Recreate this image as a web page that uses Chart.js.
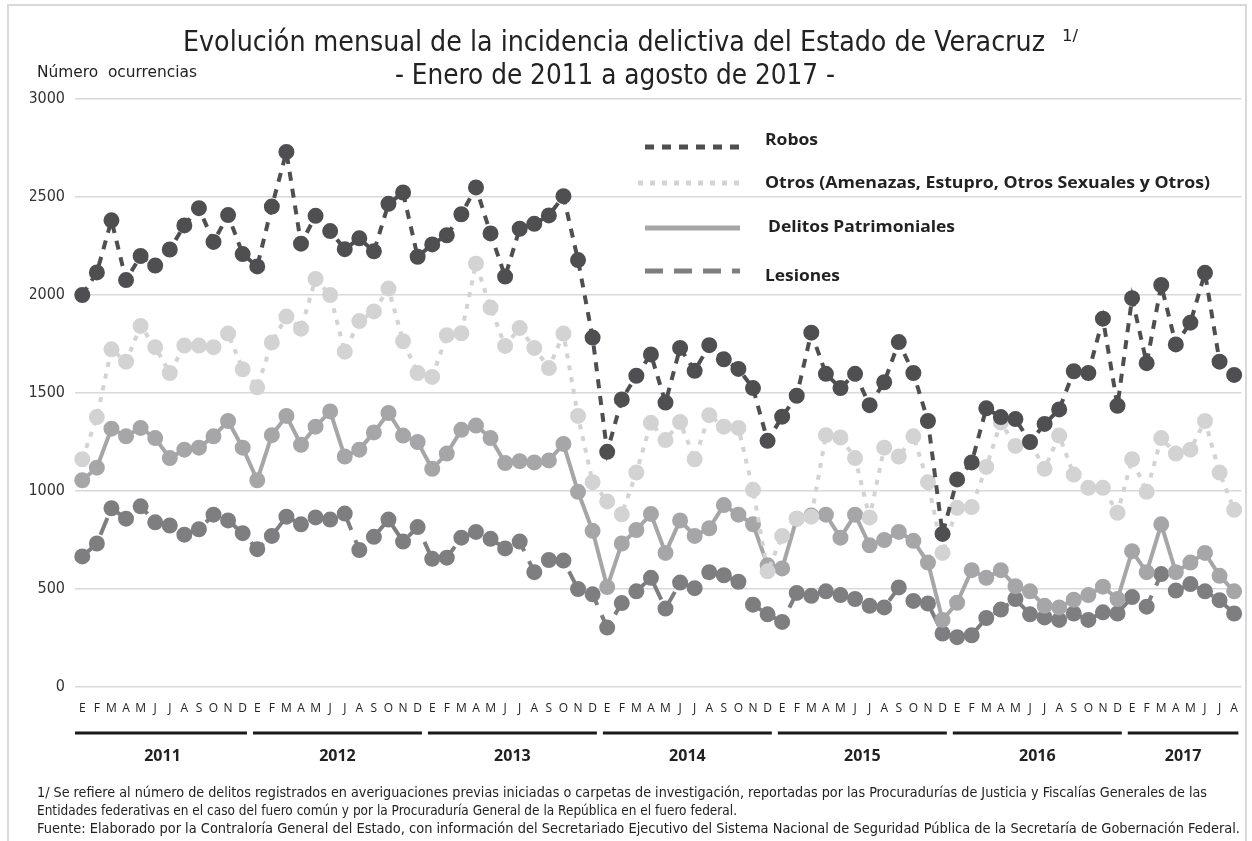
<!DOCTYPE html>
<html>
<head>
<meta charset="utf-8">
<script src="https://cdn.jsdelivr.net/npm/chart.js@4.4.1/dist/chart.umd.min.js"></script>
<style>
  html, body { margin: 0; padding: 0; background: #fff; }
  #wrap { position: relative; width: 1252px; height: 841px; }
</style>
</head>
<body>
<div id="wrap"><canvas id="c" width="1252" height="841"></canvas></div>
<script>
const months = ["E", "F", "M", "A", "M", "J", "J", "A", "S", "O", "N", "D"];
const years = ["2011", "2012", "2013", "2014", "2015", "2016", "2017"];
const monthsPerYear = [12, 12, 12, 12, 12, 12, 8];
const yTicks = [0, 500, 1000, 1500, 2000, 2500, 3000];

// Robos
const robos = [
  2000, 2115, 2381, 2076, 2199, 2150, 2232, 2355, 2443, 2271, 2408, 2209,
  2146, 2451, 2730, 2262, 2404, 2326, 2234, 2289, 2223, 2465, 2523, 2195,
  2258, 2305, 2412, 2549, 2314, 2094, 2338, 2363, 2406, 2504, 2178, 1783,
  1200, 1467, 1588, 1697, 1451, 1730, 1613, 1744, 1672, 1623, 1525, 1256,
  1379, 1486, 1808, 1598, 1525, 1598, 1438, 1555, 1760, 1602, 1357, 781,
  1059, 1146, 1422, 1377, 1367, 1250, 1342, 1416, 1611, 1602, 1879, 1435,
  1984, 1652, 2051, 1748, 1859, 2113, 1660, 1592
];
// Otros (Amenazas, Estupro, Otros Sexuales y Otros)
const otros = [
  1162, 1377, 1723, 1660, 1842, 1734, 1602, 1742, 1742, 1734, 1803, 1621,
  1529, 1758, 1890, 1828, 2082, 2000, 1711, 1867, 1916, 2033, 1764, 1602,
  1582, 1795, 1805, 2160, 1936, 1740, 1832, 1730, 1627, 1803, 1383, 1045,
  947, 881, 1094, 1348, 1260, 1352, 1162, 1387, 1328, 1322, 1006, 590,
  771, 859, 869, 1285, 1273, 1168, 865, 1221, 1176, 1279, 1045, 684,
  914, 918, 1123, 1350, 1230, 1250, 1113, 1283, 1084, 1016, 1016, 889,
  1162, 996, 1270, 1191, 1211, 1357, 1094, 904
];
// Delitos Patrimoniales
const patrimoniales = [
  1055, 1119, 1318, 1279, 1322, 1270, 1168, 1211, 1221, 1279, 1357, 1221,
  1055, 1285, 1383, 1236, 1328, 1406, 1176, 1211, 1299, 1398, 1283, 1250,
  1113, 1191, 1312, 1334, 1270, 1143, 1152, 1146, 1156, 1240, 996, 797,
  510, 732, 801, 883, 684, 850, 771, 810, 928, 879, 830, 621,
  605, 859, 875, 879, 762, 879, 723, 750, 791, 746, 635, 342,
  430, 596, 557, 596, 514, 488, 414, 406, 445, 469, 512, 449,
  693, 586, 830, 586, 635, 684, 567, 488
];
// Lesiones
const lesiones = [
  666, 732, 912, 859, 922, 840, 824, 777, 805, 879, 850, 785,
  703, 771, 869, 830, 865, 854, 885, 699, 766, 854, 742, 816,
  654, 660, 762, 791, 756, 707, 742, 586, 648, 645, 500, 473,
  303, 428, 488, 557, 400, 533, 504, 586, 570, 537, 420, 371,
  332, 480, 465, 488, 469, 449, 414, 406, 508, 439, 426, 273,
  254, 264, 352, 395, 449, 371, 355, 342, 375, 342, 381, 375,
  459, 410, 576, 492, 525, 488, 443, 375
];

const labels = [];
years.forEach((y, i) => {
  for (let m = 0; m < monthsPerYear[i]; m++) labels.push(months[m] + " " + y);
});

const NARROW = '"Liberation Sans Narrow", "DejaVu Sans Condensed", "Liberation Sans", sans-serif';
const BODY = '"Open Sans", "Liberation Sans", sans-serif';

// draw text squeezed/stretched to a measured width
function fitText(ctx, text, x, y, w, font, color) {
  ctx.save();
  ctx.font = font;
  ctx.fillStyle = color;
  ctx.textBaseline = "middle";
  ctx.textAlign = "left";
  const m = ctx.measureText(text).width;
  ctx.translate(x, y);
  ctx.scale(w / m, 1);
  ctx.fillText(text, 0, 0);
  ctx.restore();
}

const decor = {
  id: "decor",
  beforeDraw(chart) {
    const ctx = chart.ctx;
    ctx.save();
    ctx.fillStyle = "#fff";
    ctx.fillRect(0, 0, chart.width, chart.height);
    ctx.strokeStyle = "#d9d9d9";
    ctx.lineWidth = 2;
    ctx.strokeRect(8, 5, 1238, 850);
    ctx.restore();
  },
  afterDraw(chart) {
    const ctx = chart.ctx;
    const xs = chart.scales.x;

    // titles
    fitText(ctx, "Evolución mensual de la incidencia delictiva del Estado de Veracruz", 183, 44, 862, "28px " + NARROW, "#222");
    fitText(ctx, "1/", 1062, 37, 16, "15px " + NARROW, "#222");
    fitText(ctx, "- Enero de 2011 a agosto de 2017 -", 395, 77, 440, "28px " + NARROW, "#222");
    fitText(ctx, "Número  ocurrencias", 37, 73, 160, "16px " + NARROW, "#222");

    // legend
    const ly = [147, 183, 228, 271];
    const ty = [140, 183, 227, 276];
    const tw = [53, 445, 187, 75];
    const tx = [765, 765, 768, 765];
    chart.data.datasets.forEach((ds, i) => {
      ctx.save();
      ctx.strokeStyle = ds.borderColor;
      ctx.lineWidth = 5;
      ctx.setLineDash(ds.borderDash || []);
      ctx.beginPath();
      ctx.moveTo(i === 1 ? 638 : 645, ly[i]);
      ctx.lineTo(740, ly[i]);
      ctx.stroke();
      ctx.restore();
      fitText(ctx, ds.label, tx[i], ty[i], tw[i], "bold 16px " + BODY, "#222");
    });

    // year bars and labels
    const half = (xs.getPixelForTick(1) - xs.getPixelForTick(0)) / 2;
    let start = 0;
    years.forEach((y, i) => {
      const end = start + monthsPerYear[i] - 1;
      const x0 = xs.getPixelForTick(start) - half + (i === 0 ? 0 : 3);
      const x1 = xs.getPixelForTick(end) + half - 3;
      ctx.save();
      ctx.strokeStyle = "#1a1a1a";
      ctx.lineWidth = 3;
      ctx.beginPath();
      ctx.moveTo(x0, 733);
      ctx.lineTo(x1, 733);
      ctx.stroke();
      ctx.font = "bold 16px " + BODY;
      ctx.fillStyle = "#222";
      ctx.textAlign = "center";
      ctx.textBaseline = "middle";
      ctx.fillText(y, (xs.getPixelForTick(start) + xs.getPixelForTick(end)) / 2, 756);
      ctx.restore();
      start = end + 1;
    });

    // footnotes
    fitText(ctx, "1/ Se refiere al número de delitos registrados en averiguaciones previas iniciadas o carpetas de investigación, reportadas por las Procuradurías de Justicia y Fiscalías Generales de las", 37, 793, 1170, "14px " + NARROW, "#222");
    fitText(ctx, "Entidades federativas en el caso del fuero común y por la Procuraduría General de la República en el fuero federal.", 37, 811, 700, "14px " + NARROW, "#222");
    fitText(ctx, "Fuente: Elaborado por la Contraloría General del Estado, con información del Secretariado Ejecutivo del Sistema Nacional de Seguridad Pública de la Secretaría de Gobernación Federal.", 37, 829, 1203, "14px " + NARROW, "#222");
  }
};

const pointStyle = (c) => ({
  borderColor: c,
  backgroundColor: c,
  pointBackgroundColor: c,
  pointBorderColor: c,
  pointRadius: 6,
  pointHoverRadius: 6,
  borderWidth: 4,
  tension: 0,
  fill: false
});

new Chart(document.getElementById("c"), {
  type: "line",
  data: {
    labels: labels,
    datasets: [
      Object.assign({ label: "Robos", data: robos, borderDash: [9, 8] }, pointStyle("#4f4f51")),
      Object.assign({ label: "Otros (Amenazas, Estupro, Otros Sexuales y Otros)", data: otros, borderDash: [5, 7] }, pointStyle("#d3d3d4")),
      Object.assign({ label: "Delitos Patrimoniales", data: patrimoniales, borderDash: [] }, pointStyle("#a6a6a8")),
      Object.assign({ label: "Lesiones", data: lesiones, borderDash: [18, 11] }, pointStyle("#7e7e80"))
    ]
  },
  options: {
    responsive: false,
    animation: false,
    events: [],
    layout: { padding: { top: 99, right: 9, bottom: 124, left: 30 } },
    plugins: { legend: { display: false }, title: { display: false }, tooltip: { enabled: false } },
    scales: {
      x: {
        type: "category",
        offset: true,
        grid: { display: false, drawTicks: false },
        border: { display: false },
        afterFit(s) { s.height = 30; },
        ticks: {
          autoSkip: false,
          maxRotation: 0,
          padding: 14,
          color: "#222",
          font: { family: BODY, size: 12 },
          callback(v) { return this.getLabelForValue(v).charAt(0); }
        }
      },
      y: {
        min: 0,
        max: 3000,
        afterFit(s) { s.width = 45; },
        afterBuildTicks(s) { s.ticks = yTicks.map(v => ({ value: v })); },
        grid: { color: "#d9d9d9", lineWidth: 1.5, drawTicks: false },
        border: { display: false },
        ticks: {
          padding: 10,
          color: "#333",
          font: { family: NARROW, size: 16 },
          callback(v) { return String(v); }
        }
      }
    }
  },
  plugins: [decor]
});
</script>
</body>
</html>
